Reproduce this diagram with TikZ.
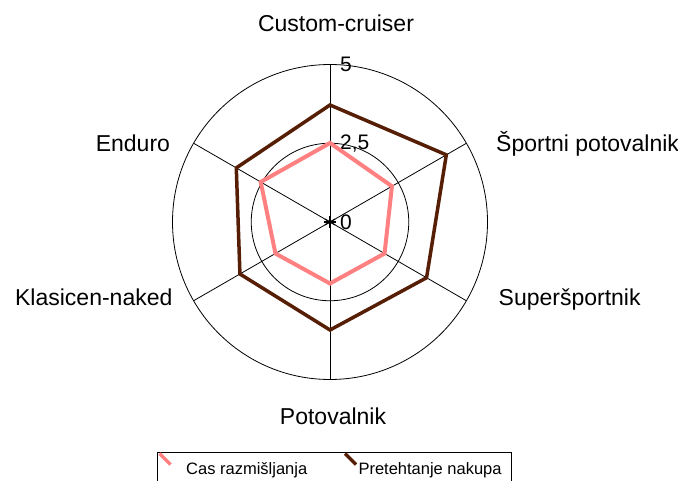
\documentclass[tikz,border=0pt]{standalone}
\usepackage{fontspec}
\setmainfont{Liberation Sans}
\definecolor{rozi}{RGB}{255,128,128}
\definecolor{rjava}{RGB}{85,30,5}
\begin{document}
\begin{tikzpicture}[x=1pt,y=1pt]
\tikzstyle{grid}=[draw=black, line width=0.8pt]
\tikzstyle{axislabel}=[inner sep=0pt, font=\fontsize{23}{26}\selectfont]
\tikzstyle{ticklabel}=[inner sep=0pt, anchor=west, font=\fontsize{21}{24}\selectfont]
\tikzstyle{seriesA}=[draw=rozi, line width=4pt]
\tikzstyle{seriesB}=[draw=rjava, line width=3.5pt]
\tikzstyle{legendtext}=[inner sep=0pt, anchor=base west, font=\fontsize{16.5}{19}\selectfont]
\useasboundingbox (0,0) rectangle (678,-481);

\begin{scope}[shift={(330,-222)}]
\coordinate (O) at (0,0);
\coordinate (T1) at (90:78.75);
\coordinate (T2) at (90:157.5);
\coordinate (S1) at (30:157.5);
\coordinate (S2) at (-30:157.5);
\coordinate (S3) at (-90:157.5);
\coordinate (S4) at (-150:157.5);
\coordinate (S5) at (150:157.5);

% mreza
\draw[grid] (O) circle (157.5);
\draw[grid] (O) circle (78.75);
\draw[grid] (O) -- (T2);
\draw[grid] (O) -- (S1);
\draw[grid] (O) -- (S2);
\draw[grid] (O) -- (S3);
\draw[grid] (O) -- (S4);
\draw[grid] (O) -- (S5);
\draw[grid] ([xshift=-4]T2) -- ([xshift=6]T2);
\draw[grid] ([xshift=-4]T1) -- ([xshift=6]T1);
\draw[grid, line width=1.1pt] ([xshift=-6]O) -- ([xshift=6]O);
\draw[grid, line width=1.1pt] ([shift={(30:6)}]O) -- ([shift={(210:6)}]O);
\draw[grid, line width=1.1pt] ([shift={(150:6)}]O) -- ([shift={(-30:6)}]O);
\draw[grid, line width=1.1pt] ([yshift=6]O) -- ([yshift=-6]O);

\node[ticklabel] (v5) at ([xshift=10]T2) {5};
\node[ticklabel] (v25) at ([xshift=10]T1) {2,5};
\node[ticklabel] (v0) at ([xshift=10]O) {0};

% pretehtanje nakupa
\coordinate (b1) at (90:117);
\coordinate (b2) at (30:134.3);
\coordinate (b3) at (-30:111.5);
\coordinate (b4) at (-90:108);
\coordinate (b5) at (-150:104);
\coordinate (b6) at (150:108.2);
\draw[seriesB] (b1) -- (b2) -- (b3) -- (b4) -- (b5) -- (b6) -- cycle;

% cas razmisljanja
\coordinate (a1) at (90:79);
\coordinate (a2) at (30:71.5);
\coordinate (a3) at (-30:63);
\coordinate (a4) at (-90:61.5);
\coordinate (a5) at (-150:63);
\coordinate (a6) at (150:80);
\draw[seriesA] (a1) -- (a2) -- (a3) -- (a4) -- (a5) -- (a6) -- cycle;
\end{scope}

\node[axislabel, anchor=base] (cc) at (336,-31.7) {Custom-cruiser};
\node[axislabel, anchor=base west] (sp) at (496,-151.7) {Športni potovalnik};
\node[axislabel, anchor=base west] (en) at (95.6,-151.7) {Enduro};
\node[axislabel, anchor=base west] (ss) at (498.5,-306) {Superšportnik};
\node[axislabel, anchor=base east] (kn) at (172.6,-306) {Klasicen-naked};
\node[axislabel, anchor=base] (po) at (333,-424) {Potovalnik};

% legenda
\coordinate (L1) at (157,-481);
\coordinate (L2) at (157,-452);
\coordinate (L3) at (511,-452);
\coordinate (L4) at (511,-481);
\draw[grid] (L1) -- (L2) -- (L3) -- (L4);
\coordinate (ma1) at (159.5,-453.5);
\coordinate (ma2) at (170.5,-464.5);
\coordinate (mb1) at (345,-453.5);
\coordinate (mb2) at (356,-464.5);
\draw[draw=rozi, line width=3.5pt] (ma1) -- (ma2);
\draw[draw=rjava, line width=3.5pt] (mb1) -- (mb2);
\node[legendtext] (la) at (186,-474.7) {Cas razmišljanja};
\node[legendtext] (lb) at (358.3,-474.7) {Pretehtanje nakupa};
\end{tikzpicture}
\end{document}
